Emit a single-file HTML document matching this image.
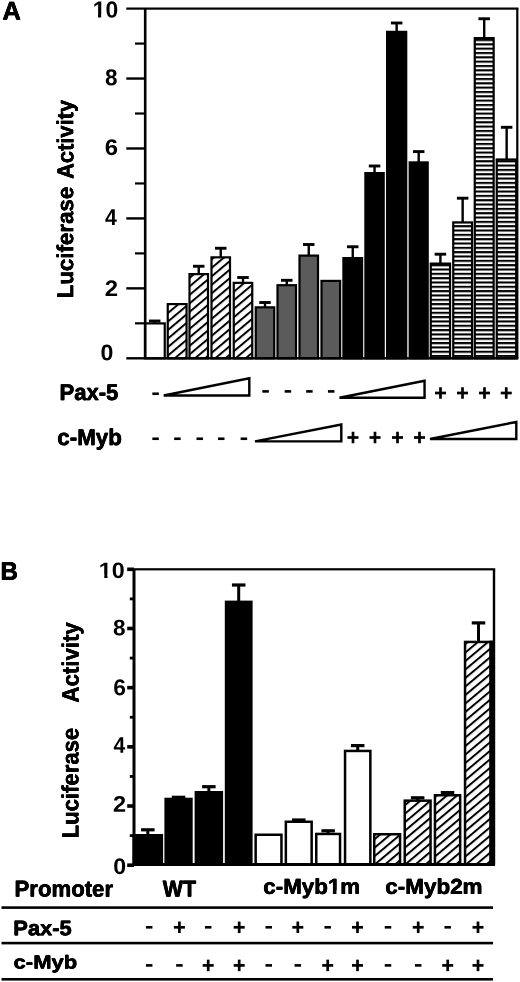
<!DOCTYPE html>
<html><head><meta charset="utf-8"><title>Figure</title>
<style>
html,body{margin:0;padding:0;background:#fff;}
svg{display:block;filter:grayscale(1);}
text{font-family:"Liberation Sans",sans-serif;font-weight:bold;fill:#000;}
</style></head><body>
<svg width="520" height="982" viewBox="0 0 520 982">
<rect x="0" y="0" width="520" height="982" fill="#fff"/>
<defs><pattern id="hatch" width="20" height="6.511" patternUnits="userSpaceOnUse" patternTransform="translate(0,2.2) rotate(-40.0)"><rect x="0" y="0" width="20" height="6.511" fill="#fff"/><rect x="0" y="0" width="20" height="2.0" fill="#000"/></pattern><pattern id="hatchB" width="20" height="6.511" patternUnits="userSpaceOnUse" patternTransform="translate(0,4.8) rotate(-40.0)"><rect x="0" y="0" width="20" height="6.511" fill="#fff"/><rect x="0" y="0" width="20" height="2.0" fill="#000"/></pattern><pattern id="stripe" width="20" height="4.33" patternUnits="userSpaceOnUse"><rect x="0" y="0" width="20" height="4.33" fill="#fff"/><rect x="0" y="0" width="20" height="2.1" fill="#000"/></pattern></defs>
<text id="t1" transform="translate(-0.25,-0.25) translate(2.52,19.55) rotate(0.05) scale(1.0797,1.0894)" font-size="23.5">A</text>
<use href="#t1" transform="translate(0.50,0.00)"/>
<use href="#t1" transform="translate(0.00,0.50)"/>
<use href="#t1" transform="translate(0.50,0.50)"/>
<rect x="145.00" y="323.40" width="19.75" height="35.00" fill="#fff" stroke="#000" stroke-width="2.2"/>
<rect x="153.50" y="321.00" width="2.40" height="2.30" fill="#000"/>
<rect x="148.95" y="319.55" width="11.50" height="2.90" fill="#000"/>
<rect x="166.65" y="303.00" width="21.00" height="56.50" fill="#fff"/>
<rect x="167.75" y="304.10" width="18.80" height="54.30" fill="url(#hatch)" stroke="#000" stroke-width="2.2"/>
<rect x="188.40" y="273.00" width="20.70" height="86.50" fill="#fff"/>
<rect x="189.50" y="274.10" width="18.50" height="84.30" fill="url(#hatch)" stroke="#000" stroke-width="2.2"/>
<rect x="197.55" y="266.25" width="2.40" height="7.75" fill="#000"/>
<rect x="193.00" y="264.80" width="11.50" height="2.90" fill="#000"/>
<rect x="210.40" y="256.25" width="20.70" height="103.25" fill="#fff"/>
<rect x="211.50" y="257.35" width="18.50" height="101.05" fill="url(#hatch)" stroke="#000" stroke-width="2.2"/>
<rect x="219.55" y="248.25" width="2.40" height="9.00" fill="#000"/>
<rect x="215.00" y="246.80" width="11.50" height="2.90" fill="#000"/>
<rect x="232.65" y="281.75" width="20.70" height="77.75" fill="#fff"/>
<rect x="233.75" y="282.85" width="18.50" height="75.55" fill="url(#hatch)" stroke="#000" stroke-width="2.2"/>
<rect x="241.80" y="277.50" width="2.40" height="5.25" fill="#000"/>
<rect x="237.25" y="276.05" width="11.50" height="2.90" fill="#000"/>
<rect x="255.75" y="307.35" width="18.50" height="51.05" fill="#5b5b5b" stroke="#000" stroke-width="2.2"/>
<rect x="263.80" y="302.50" width="2.40" height="4.75" fill="#000"/>
<rect x="259.25" y="301.05" width="11.50" height="2.90" fill="#000"/>
<rect x="277.50" y="285.20" width="18.50" height="73.20" fill="#5b5b5b" stroke="#000" stroke-width="2.2"/>
<rect x="285.55" y="280.30" width="2.40" height="4.80" fill="#000"/>
<rect x="281.00" y="278.85" width="11.50" height="2.90" fill="#000"/>
<rect x="299.50" y="255.60" width="18.50" height="102.80" fill="#5b5b5b" stroke="#000" stroke-width="2.2"/>
<rect x="307.55" y="244.50" width="2.40" height="11.00" fill="#000"/>
<rect x="303.00" y="243.05" width="11.50" height="2.90" fill="#000"/>
<rect x="321.50" y="280.90" width="18.65" height="77.50" fill="#5b5b5b" stroke="#000" stroke-width="2.2"/>
<rect x="342.30" y="257.00" width="20.90" height="102.50" fill="#000"/>
<rect x="351.55" y="246.75" width="2.40" height="11.25" fill="#000"/>
<rect x="347.00" y="245.30" width="11.50" height="2.90" fill="#000"/>
<rect x="364.30" y="172.00" width="20.50" height="187.50" fill="#000"/>
<rect x="373.35" y="166.00" width="2.40" height="7.00" fill="#000"/>
<rect x="368.80" y="164.55" width="11.50" height="2.90" fill="#000"/>
<rect x="386.00" y="30.75" width="21.30" height="328.75" fill="#000"/>
<rect x="395.45" y="23.00" width="2.40" height="8.75" fill="#000"/>
<rect x="390.90" y="21.55" width="11.50" height="2.90" fill="#000"/>
<rect x="408.60" y="161.30" width="20.20" height="198.20" fill="#000"/>
<rect x="417.50" y="151.60" width="2.40" height="10.70" fill="#000"/>
<rect x="412.95" y="150.15" width="11.50" height="2.90" fill="#000"/>
<rect x="429.65" y="262.50" width="21.50" height="97.00" fill="#fff"/>
<rect x="430.75" y="263.60" width="19.30" height="94.80" fill="url(#stripe)" stroke="#000" stroke-width="2.2"/>
<rect x="439.20" y="254.20" width="2.40" height="9.30" fill="#000"/>
<rect x="434.65" y="252.75" width="11.50" height="2.90" fill="#000"/>
<rect x="452.15" y="221.30" width="21.00" height="138.20" fill="#fff"/>
<rect x="453.25" y="222.40" width="18.80" height="136.00" fill="url(#stripe)" stroke="#000" stroke-width="2.2"/>
<rect x="461.45" y="198.20" width="2.40" height="24.10" fill="#000"/>
<rect x="456.90" y="196.75" width="11.50" height="2.90" fill="#000"/>
<rect x="473.65" y="37.00" width="21.10" height="322.50" fill="#fff"/>
<rect x="474.75" y="38.10" width="18.90" height="320.30" fill="url(#stripe)" stroke="#000" stroke-width="2.2"/>
<rect x="483.00" y="18.75" width="2.40" height="19.25" fill="#000"/>
<rect x="478.45" y="17.30" width="11.50" height="2.90" fill="#000"/>
<rect x="495.65" y="158.40" width="21.65" height="201.10" fill="#fff"/>
<rect x="496.75" y="159.50" width="19.45" height="198.90" fill="url(#stripe)" stroke="#000" stroke-width="2.2"/>
<rect x="505.45" y="127.30" width="2.40" height="32.10" fill="#000"/>
<rect x="500.90" y="125.85" width="11.50" height="2.90" fill="#000"/>
<rect x="143.90" y="8.60" width="2.60" height="349.70" fill="#000"/>
<rect x="126.30" y="7.50" width="392.10" height="2.20" fill="#000"/>
<rect x="126.30" y="357.10" width="392.10" height="2.40" fill="#000"/>
<rect x="516.20" y="8.60" width="2.20" height="349.70" fill="#000"/>
<rect x="126.30" y="287.16" width="18.90" height="2.40" fill="#000"/>
<rect x="126.30" y="217.22" width="18.90" height="2.40" fill="#000"/>
<rect x="126.30" y="147.28" width="18.90" height="2.40" fill="#000"/>
<rect x="126.30" y="77.34" width="18.90" height="2.40" fill="#000"/>
<rect x="135.00" y="322.23" width="10.20" height="2.20" fill="#000"/>
<rect x="135.00" y="252.29" width="10.20" height="2.20" fill="#000"/>
<rect x="135.00" y="182.35" width="10.20" height="2.20" fill="#000"/>
<rect x="135.00" y="112.41" width="10.20" height="2.20" fill="#000"/>
<rect x="135.00" y="42.47" width="10.20" height="2.20" fill="#000"/>
<text transform="translate(92.67,17.57) rotate(0.05) scale(0.9757,0.9864)" font-size="23.5">10</text>
<g transform="translate(92.67,17.57) rotate(0.05) scale(0.9757,0.9864)"><rect x="0.68" y="-3.70" width="4.80" height="4.30" fill="#fff"/><rect x="8.71" y="-3.70" width="4.51" height="4.30" fill="#fff"/></g>
<text transform="translate(105.07,85.17) rotate(0.05) scale(0.9591,0.9804)" font-size="23.5">8</text>
<text transform="translate(104.71,154.97) rotate(0.05) scale(1.0142,0.9623)" font-size="23.5">6</text>
<text transform="translate(105.08,225.00) rotate(0.05) scale(0.9067,0.9779)" font-size="23.5">4</text>
<text transform="translate(104.76,296.10) rotate(0.05) scale(1.0195,0.9578)" font-size="23.5">2</text>
<text transform="translate(100.57,360.17) rotate(0.05) scale(0.9854,0.9623)" font-size="23.5">0</text>
<text id="t2" transform="translate(-0.12,-0.12) translate(73.17,298.28) rotate(-90.05) scale(0.9491,0.9749)" font-size="23.5">Luciferase</text>
<use href="#t2" transform="translate(0.25,0.00)"/>
<use href="#t2" transform="translate(0.00,0.25)"/>
<use href="#t2" transform="translate(0.25,0.25)"/>
<text id="t3" transform="translate(-0.12,-0.12) translate(73.28,178.92) rotate(-90.05) scale(0.9318,0.9810)" font-size="23.5">Activity</text>
<use href="#t3" transform="translate(0.25,0.00)"/>
<use href="#t3" transform="translate(0.00,0.25)"/>
<use href="#t3" transform="translate(0.25,0.25)"/>
<text id="t4" transform="translate(-0.25,-0.25) translate(59.41,400.05) rotate(0.05) scale(0.9404,0.9656)" font-size="23.5">Pax-5</text>
<use href="#t4" transform="translate(0.50,0.00)"/>
<use href="#t4" transform="translate(0.00,0.50)"/>
<use href="#t4" transform="translate(0.50,0.50)"/>
<text id="t5" transform="translate(-0.25,-0.25) translate(57.36,445.05) rotate(0.05) scale(0.9503,0.9656)" font-size="23.5">c-Myb</text>
<use href="#t5" transform="translate(0.50,0.00)"/>
<use href="#t5" transform="translate(0.00,0.50)"/>
<use href="#t5" transform="translate(0.50,0.50)"/>
<rect x="152.35" y="392.45" width="6.50" height="2.60" fill="#000"/>
<path d="M163.75,395.45 L249.30,378.20 L249.30,395.45 Z" fill="#fff" stroke="#000" stroke-width="2.4" stroke-linejoin="miter"/>
<rect x="262.35" y="390.10" width="6.50" height="2.60" fill="#000"/>
<rect x="284.65" y="390.10" width="6.50" height="2.60" fill="#000"/>
<rect x="306.15" y="390.10" width="6.50" height="2.60" fill="#000"/>
<rect x="327.95" y="390.10" width="6.50" height="2.60" fill="#000"/>
<path d="M339.50,397.70 L424.55,380.70 L424.55,397.70 Z" fill="#fff" stroke="#000" stroke-width="2.4" stroke-linejoin="miter"/>
<rect x="435.00" y="391.65" width="11.00" height="2.70" fill="#000"/>
<rect x="439.15" y="387.25" width="2.70" height="11.50" fill="#000"/>
<rect x="457.00" y="391.65" width="11.00" height="2.70" fill="#000"/>
<rect x="461.15" y="387.25" width="2.70" height="11.50" fill="#000"/>
<rect x="479.00" y="391.65" width="11.00" height="2.70" fill="#000"/>
<rect x="483.15" y="387.25" width="2.70" height="11.50" fill="#000"/>
<rect x="500.75" y="391.65" width="11.00" height="2.70" fill="#000"/>
<rect x="504.90" y="387.25" width="2.70" height="11.50" fill="#000"/>
<rect x="152.35" y="437.45" width="6.50" height="2.60" fill="#000"/>
<rect x="174.15" y="437.45" width="6.50" height="2.60" fill="#000"/>
<rect x="196.50" y="437.45" width="6.50" height="2.60" fill="#000"/>
<rect x="218.00" y="437.45" width="6.50" height="2.60" fill="#000"/>
<rect x="240.65" y="437.45" width="6.50" height="2.60" fill="#000"/>
<path d="M255.00,441.40 L341.30,424.45 L341.30,441.40 Z" fill="#fff" stroke="#000" stroke-width="2.4" stroke-linejoin="miter"/>
<rect x="347.50" y="436.15" width="11.00" height="2.70" fill="#000"/>
<rect x="351.65" y="431.75" width="2.70" height="11.50" fill="#000"/>
<rect x="369.50" y="436.15" width="11.00" height="2.70" fill="#000"/>
<rect x="373.65" y="431.75" width="2.70" height="11.50" fill="#000"/>
<rect x="392.00" y="436.15" width="11.00" height="2.70" fill="#000"/>
<rect x="396.15" y="431.75" width="2.70" height="11.50" fill="#000"/>
<rect x="414.00" y="436.15" width="11.00" height="2.70" fill="#000"/>
<rect x="418.15" y="431.75" width="2.70" height="11.50" fill="#000"/>
<path d="M430.00,439.00 L516.30,421.95 L516.30,439.00 Z" fill="#fff" stroke="#000" stroke-width="2.4" stroke-linejoin="miter"/>
<text id="t6" transform="translate(-0.25,-0.25) translate(0.52,579.75) rotate(0.05) scale(1.0255,1.0770)" font-size="23.5">B</text>
<use href="#t6" transform="translate(0.50,0.00)"/>
<use href="#t6" transform="translate(0.00,0.50)"/>
<use href="#t6" transform="translate(0.50,0.50)"/>
<rect x="132.50" y="834.00" width="30.60" height="31.90" fill="#000"/>
<rect x="146.30" y="829.80" width="3.00" height="5.20" fill="#000"/>
<rect x="141.05" y="828.20" width="13.50" height="3.20" fill="#000"/>
<rect x="164.40" y="797.70" width="28.30" height="68.20" fill="#000"/>
<rect x="177.05" y="797.30" width="3.00" height="1.40" fill="#000"/>
<rect x="171.80" y="795.70" width="13.50" height="3.20" fill="#000"/>
<rect x="194.60" y="791.00" width="28.50" height="74.90" fill="#000"/>
<rect x="207.35" y="786.70" width="3.00" height="5.30" fill="#000"/>
<rect x="202.10" y="785.10" width="13.50" height="3.20" fill="#000"/>
<rect x="224.80" y="600.60" width="27.80" height="265.30" fill="#000"/>
<rect x="237.20" y="585.00" width="3.00" height="16.60" fill="#000"/>
<rect x="231.95" y="583.40" width="13.50" height="3.20" fill="#000"/>
<rect x="255.65" y="834.75" width="25.80" height="29.90" fill="#fff" stroke="#000" stroke-width="2.5"/>
<rect x="285.85" y="821.75" width="25.80" height="42.90" fill="#fff" stroke="#000" stroke-width="2.5"/>
<rect x="297.25" y="820.00" width="3.00" height="1.50" fill="#000"/>
<rect x="292.00" y="818.40" width="13.50" height="3.20" fill="#000"/>
<rect x="316.25" y="833.95" width="23.80" height="30.70" fill="#fff" stroke="#000" stroke-width="2.5"/>
<rect x="326.65" y="830.80" width="3.00" height="2.90" fill="#000"/>
<rect x="321.40" y="829.20" width="13.50" height="3.20" fill="#000"/>
<rect x="345.05" y="750.95" width="25.30" height="113.70" fill="#fff" stroke="#000" stroke-width="2.5"/>
<rect x="356.20" y="745.60" width="3.00" height="5.10" fill="#000"/>
<rect x="350.95" y="744.00" width="13.50" height="3.20" fill="#000"/>
<rect x="373.00" y="833.00" width="28.30" height="32.90" fill="#fff"/>
<rect x="374.25" y="834.25" width="25.80" height="30.40" fill="url(#hatchB)" stroke="#000" stroke-width="2.5"/>
<rect x="403.50" y="799.40" width="28.30" height="66.50" fill="#fff"/>
<rect x="404.75" y="800.65" width="25.80" height="64.00" fill="url(#hatchB)" stroke="#000" stroke-width="2.5"/>
<rect x="416.15" y="797.80" width="3.00" height="2.60" fill="#000"/>
<rect x="410.90" y="796.20" width="13.50" height="3.20" fill="#000"/>
<rect x="433.70" y="794.00" width="27.70" height="71.90" fill="#fff"/>
<rect x="434.95" y="795.25" width="25.20" height="69.40" fill="url(#hatchB)" stroke="#000" stroke-width="2.5"/>
<rect x="446.05" y="792.60" width="3.00" height="2.40" fill="#000"/>
<rect x="440.80" y="791.00" width="13.50" height="3.20" fill="#000"/>
<rect x="463.80" y="640.70" width="29.40" height="225.20" fill="#fff"/>
<rect x="465.05" y="641.95" width="26.90" height="222.70" fill="url(#hatchB)" stroke="#000" stroke-width="2.5"/>
<rect x="477.00" y="622.90" width="3.00" height="18.80" fill="#000"/>
<rect x="471.75" y="621.30" width="13.50" height="3.20" fill="#000"/>
<rect x="489.20" y="640.70" width="4.80" height="224.50" fill="#000"/>
<rect x="132.50" y="569.30" width="3.00" height="295.90" fill="#000"/>
<rect x="127.90" y="568.20" width="367.30" height="2.20" fill="#000"/>
<rect x="134.00" y="863.00" width="361.00" height="3.00" fill="#000"/>
<rect x="127.20" y="863.40" width="6.80" height="3.60" fill="#000"/>
<rect x="492.80" y="569.30" width="2.40" height="295.90" fill="#000"/>
<rect x="127.20" y="804.22" width="6.80" height="3.60" fill="#000"/>
<rect x="127.20" y="745.04" width="6.80" height="3.60" fill="#000"/>
<rect x="127.20" y="685.86" width="6.80" height="3.60" fill="#000"/>
<rect x="127.20" y="626.68" width="6.80" height="3.60" fill="#000"/>
<rect x="127.20" y="567.50" width="6.80" height="3.60" fill="#000"/>
<rect x="129.80" y="834.21" width="4.20" height="2.80" fill="#000"/>
<rect x="129.80" y="775.03" width="4.20" height="2.80" fill="#000"/>
<rect x="129.80" y="715.85" width="4.20" height="2.80" fill="#000"/>
<rect x="129.80" y="656.67" width="4.20" height="2.80" fill="#000"/>
<rect x="129.80" y="597.49" width="4.20" height="2.80" fill="#000"/>
<text transform="translate(98.84,577.98) rotate(0.05) scale(0.9926,0.9503)" font-size="23.5">10</text>
<g transform="translate(98.84,577.98) rotate(0.05) scale(0.9926,0.9503)"><rect x="0.68" y="-3.70" width="4.80" height="4.30" fill="#fff"/><rect x="8.71" y="-3.70" width="4.51" height="4.30" fill="#fff"/></g>
<text transform="translate(113.07,635.18) rotate(0.05) scale(0.9591,0.9503)" font-size="23.5">8</text>
<text transform="translate(113.25,695.27) rotate(0.05) scale(0.9701,0.9744)" font-size="23.5">6</text>
<text transform="translate(113.48,752.80) rotate(0.05) scale(0.8988,0.9656)" font-size="23.5">4</text>
<text transform="translate(112.98,811.80) rotate(0.05) scale(1.0018,0.9639)" font-size="23.5">2</text>
<text transform="translate(113.17,873.98) rotate(0.05) scale(0.9854,0.9563)" font-size="23.5">0</text>
<text id="t7" transform="translate(-0.12,-0.12) translate(78.47,838.27) rotate(-90.05) scale(0.9405,0.9934)" font-size="23.5">Luciferase</text>
<use href="#t7" transform="translate(0.25,0.00)"/>
<use href="#t7" transform="translate(0.00,0.25)"/>
<use href="#t7" transform="translate(0.25,0.25)"/>
<text id="t8" transform="translate(-0.12,-0.12) translate(78.58,702.53) rotate(-90.05) scale(0.9473,0.9996)" font-size="23.5">Activity</text>
<use href="#t8" transform="translate(0.25,0.00)"/>
<use href="#t8" transform="translate(0.00,0.25)"/>
<use href="#t8" transform="translate(0.25,0.25)"/>
<text id="t9" transform="translate(-0.25,-0.25) translate(14.55,896.55) rotate(0.05) scale(0.9427,0.9687)" font-size="23.5">Promoter</text>
<use href="#t9" transform="translate(0.50,0.00)"/>
<use href="#t9" transform="translate(0.00,0.50)"/>
<use href="#t9" transform="translate(0.50,0.50)"/>
<text id="t10" transform="translate(-0.25,-0.25) translate(162.70,896.55) rotate(0.05) scale(0.9104,0.9687)" font-size="23.5">WT</text>
<use href="#t10" transform="translate(0.50,0.00)"/>
<use href="#t10" transform="translate(0.00,0.50)"/>
<use href="#t10" transform="translate(0.50,0.50)"/>
<text id="t11" transform="translate(-0.25,-0.25) translate(263.36,893.75) rotate(0.05) scale(0.9511,0.9099)" font-size="23.5">c-Myb1m</text>
<use href="#t11" transform="translate(0.50,0.00)"/>
<use href="#t11" transform="translate(0.00,0.50)"/>
<use href="#t11" transform="translate(0.50,0.50)"/>
<g transform="translate(263.36,893.75) rotate(0.05) scale(0.9511,0.9099)"><rect x="68.31" y="-3.97" width="4.80" height="4.85" fill="#fff"/><rect x="76.87" y="-3.97" width="4.51" height="4.85" fill="#fff"/></g>
<text id="t12" transform="translate(-0.25,-0.25) translate(385.25,893.75) rotate(0.05) scale(0.9561,0.9099)" font-size="23.5">c-Myb2m</text>
<use href="#t12" transform="translate(0.50,0.00)"/>
<use href="#t12" transform="translate(0.00,0.50)"/>
<use href="#t12" transform="translate(0.50,0.50)"/>
<text id="t13" transform="translate(-0.25,-0.25) translate(13.27,935.15) rotate(0.05) scale(0.9329,0.8913)" font-size="23.5">Pax-5</text>
<use href="#t13" transform="translate(0.50,0.00)"/>
<use href="#t13" transform="translate(0.00,0.50)"/>
<use href="#t13" transform="translate(0.50,0.50)"/>
<text id="t14" transform="translate(-0.25,-0.25) translate(13.57,968.55) rotate(0.05) scale(0.9367,0.7985)" font-size="23.5">c-Myb</text>
<use href="#t14" transform="translate(0.50,0.00)"/>
<use href="#t14" transform="translate(0.00,0.50)"/>
<use href="#t14" transform="translate(0.50,0.50)"/>
<rect x="1.50" y="906.30" width="491.50" height="2.60" fill="#000"/>
<rect x="1.50" y="941.80" width="491.50" height="2.60" fill="#000"/>
<rect x="1.50" y="978.00" width="491.50" height="2.60" fill="#000"/>
<rect x="145.95" y="926.00" width="6.50" height="2.60" fill="#000"/>
<rect x="145.95" y="964.10" width="6.50" height="2.60" fill="#000"/>
<rect x="173.90" y="925.95" width="11.00" height="2.70" fill="#000"/>
<rect x="178.05" y="921.55" width="2.70" height="11.50" fill="#000"/>
<rect x="176.15" y="964.10" width="6.50" height="2.60" fill="#000"/>
<rect x="204.95" y="926.00" width="6.50" height="2.60" fill="#000"/>
<rect x="202.70" y="964.05" width="11.00" height="2.70" fill="#000"/>
<rect x="206.85" y="959.65" width="2.70" height="11.50" fill="#000"/>
<rect x="233.70" y="925.95" width="11.00" height="2.70" fill="#000"/>
<rect x="237.85" y="921.55" width="2.70" height="11.50" fill="#000"/>
<rect x="233.70" y="964.05" width="11.00" height="2.70" fill="#000"/>
<rect x="237.85" y="959.65" width="2.70" height="11.50" fill="#000"/>
<rect x="265.50" y="926.00" width="6.50" height="2.60" fill="#000"/>
<rect x="265.50" y="964.10" width="6.50" height="2.60" fill="#000"/>
<rect x="292.30" y="925.95" width="11.00" height="2.70" fill="#000"/>
<rect x="296.45" y="921.55" width="2.70" height="11.50" fill="#000"/>
<rect x="294.55" y="964.10" width="6.50" height="2.60" fill="#000"/>
<rect x="324.45" y="926.00" width="6.50" height="2.60" fill="#000"/>
<rect x="322.20" y="964.05" width="11.00" height="2.70" fill="#000"/>
<rect x="326.35" y="959.65" width="2.70" height="11.50" fill="#000"/>
<rect x="352.00" y="925.95" width="11.00" height="2.70" fill="#000"/>
<rect x="356.15" y="921.55" width="2.70" height="11.50" fill="#000"/>
<rect x="352.00" y="964.05" width="11.00" height="2.70" fill="#000"/>
<rect x="356.15" y="959.65" width="2.70" height="11.50" fill="#000"/>
<rect x="384.75" y="926.00" width="6.50" height="2.60" fill="#000"/>
<rect x="384.75" y="964.10" width="6.50" height="2.60" fill="#000"/>
<rect x="412.70" y="925.95" width="11.00" height="2.70" fill="#000"/>
<rect x="416.85" y="921.55" width="2.70" height="11.50" fill="#000"/>
<rect x="414.95" y="964.10" width="6.50" height="2.60" fill="#000"/>
<rect x="444.45" y="926.00" width="6.50" height="2.60" fill="#000"/>
<rect x="442.20" y="964.05" width="11.00" height="2.70" fill="#000"/>
<rect x="446.35" y="959.65" width="2.70" height="11.50" fill="#000"/>
<rect x="472.50" y="925.95" width="11.00" height="2.70" fill="#000"/>
<rect x="476.65" y="921.55" width="2.70" height="11.50" fill="#000"/>
<rect x="472.50" y="964.05" width="11.00" height="2.70" fill="#000"/>
<rect x="476.65" y="959.65" width="2.70" height="11.50" fill="#000"/>
</svg>
</body></html>
